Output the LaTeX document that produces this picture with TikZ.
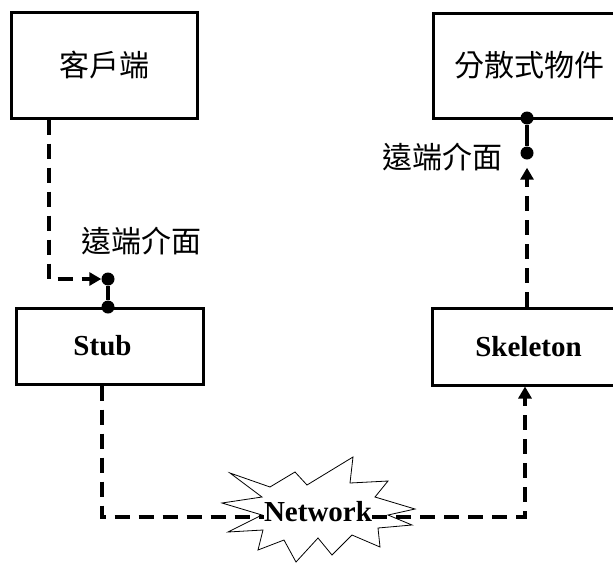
\documentclass[tikz,border=0pt]{standalone}
\usepackage{fontspec}
\setmainfont{Liberation Serif}
\newfontfamily\cjk{Noto Sans CJK TC}
\usetikzlibrary{arrows.meta}
\begin{document}
\begin{tikzpicture}[x=1pt,y=-1pt,
  box/.style={draw=black,line width=3pt,fill=white,inner sep=0pt},
  cjktext/.style={font=\cjk\fontsize{30}{31}\selectfont},
  latintext/.style={font=\bfseries\fontsize{29}{31}\selectfont},
  dotnode/.style={circle,fill=black,inner sep=0pt,minimum size=13pt},
  dashline/.style={line width=3.2pt,dash pattern=on 15pt off 9pt},
  solidline/.style={line width=3.2pt},
  tip/.style={-{Triangle[length=12pt,width=13pt]}}
]
\clip (0,0) rectangle (613,563);
\fill[white] (0,0) rectangle (613,563);
% boxes
\node[box,minimum width=186pt,minimum height=106pt,cjktext] (client) at (104,65) {客戶端};
\node[box,minimum width=187pt,minimum height=76pt,latintext] (stub) at (109.5,346) {\hspace*{-14pt}Stub};
\node[box,minimum width=193pt,minimum height=77pt,latintext] (skel) at (528.5,346.5) {Skeleton};
\node[box,minimum width=192pt,minimum height=105pt,cjktext] (obj) at (529,65.5) {分散式物件};
% star
\draw[line width=0.8pt,fill=white] (230,473) -- (270,487) -- (295,472) -- (307,485) -- (353,457) -- (350,483) -- (388,481) -- (375,497) -- (415,509) -- (388,515) -- (412,525) -- (378,528) -- (380,547) -- (352,535) -- (332,555) -- (318,538) -- (296,562) -- (284,540) -- (258,550) -- (263,530) -- (228,532) -- (262,515) -- (222,503) -- (262,497) -- cycle;
\node[latintext,inner sep=0pt] (net) at (318,512) {Network};
% dots
\node[dotnode] (d1) at (108,279) {};
\node[dotnode] (d2) at (108,307) {};
\node[dotnode] (d3) at (527,118) {};
\node[dotnode] (d4) at (527,153) {};
% labels
\node[cjktext] (lab1) at (141,241) {遠端介面};
\node[cjktext] (lab2) at (442,157) {遠端介面};
% connectors
\coordinate (cl) at (49,279);
\draw[dashline,tip] (client.south -| cl) -- (cl) -- (d1);
\draw[solidline] (d1) -- (d2);
\draw[solidline] (d3) -- (d4);
\coordinate (sl) at (102,517);
\draw[dashline] (stub.south -| sl) -- (sl) -- (net.west |- sl);
\coordinate (rc) at (525,517);
\draw[dashline,tip] (net.east |- rc) -- (rc) -- (rc |- skel.south);
\draw[dashline,tip,shorten >=8pt] (skel.north -| d4) -- (d4);
\end{tikzpicture}
\end{document}
